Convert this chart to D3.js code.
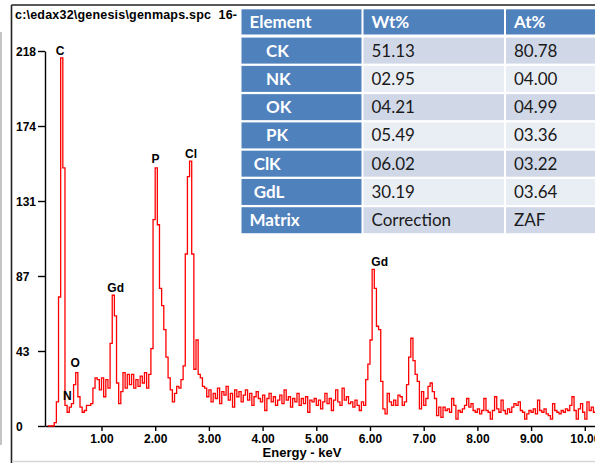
<!DOCTYPE html>
<html>
<head>
<meta charset="utf-8">
<script src="https://cdn.jsdelivr.net/npm/d3@7"></script>
<style>
  html, body { margin: 0; padding: 0; background: #fff; }
  svg { display: block; }
  .ax text { font-family: "Liberation Sans", Arial, sans-serif; font-weight: bold; font-size: 12px; fill: #000; }
  .peak { font-family: "Liberation Sans", Arial, sans-serif; font-weight: bold; font-size: 12px; fill: #000; }
  .xlabel { font-family: "Liberation Sans", Arial, sans-serif; font-weight: bold; font-size: 13px; fill: #000; }
  .title { font-family: "Liberation Sans", Arial, sans-serif; font-weight: bold; font-size: 12.5px; white-space: pre; letter-spacing: 0.2px; }
  .tbl text { font-family: Lato, "Open Sans", sans-serif; font-size: 17px; white-space: pre; }
</style>
</head>
<body>
<svg id="chart" width="595" height="463"></svg>
<script>
// EDS spectrum: counts per 0.04 keV channel, starting at 0 keV
const channelWidth = 0.04;
const counts = [
  0, 0, 0, 2, 14, 75, 214, 150, 12, 8, 11, 13, 24, 31, 17, 11, 8, 9, 12, 12,
  13, 22, 28, 27, 21, 28, 17, 27, 22, 48, 76, 64, 25, 13, 20, 31, 22, 30, 24, 30,
  22, 27, 23, 29, 25, 31, 22, 30, 45, 120, 150, 117, 80, 70, 56, 40, 28, 21, 14, 19,
  23, 22, 27, 35, 100, 145, 154, 100, 33, 50, 30, 28, 23, 22, 17, 21, 14, 19, 16, 22,
  13, 20, 18, 23, 15, 19, 11, 21, 17, 20, 14, 18, 21, 15, 19, 12, 17, 20, 16, 14,
  18, 9, 16, 19, 14, 17, 12, 15, 18, 13, 21, 15, 17, 11, 16, 14, 19, 12, 16, 13,
  17, 8, 15, 14, 16, 12, 15, 10, 14, 19, 13, 16, 9, 15, 21, 14, 12, 22, 15, 17,
  13, 14, 11, 15, 12, 9, 14, 12, 27, 36, 50, 91, 80, 58, 56, 26, 10, 7, 19, 14,
  12, 15, 12, 18, 17, 12, 14, 24, 40, 51, 38, 30, 26, 10, 20, 12, 16, 23, 25, 20,
  16, 6, 11, 5, 11, 9, 10, 8, 16, 12, 4, 9, 8, 10, 12, 16, 11, 13, 9, 8,
  10, 7, 9, 16, 9, 8, 4, 9, 17, 10, 8, 15, 9, 7, 10, 8, 11, 13, 12, 14,
  9, 8, 4, 7, 9, 8, 10, 7, 15, 9, 8, 10, 7, 6, 4, 13, 9, 8, 7, 9,
  8, 10, 9, 12, 17, 9, 4, 10, 13, 8, 4, 14, 9, 11, 8, 9
];

// Axis ticks
const xTickValues = [1, 2, 3, 4, 5, 6, 7, 8, 9, 10];
const xTickLabels = ["1.00", "2.00", "3.00", "4.00", "5.00", "6.00", "7.00", "8.00", "9.00", "10.00"];
const yTickValues = [0, 43.6, 87.2, 130.8, 174.4, 218];
const yTickLabels = ["0", "43", "87", "131", "174", "218"];

// Peak identification labels (energy in keV, label height in counts)
const peakNames = ["C", "N", "O", "Gd", "P", "Cl", "Gd"];
const peakEnergies = [0.227, 0.363, 0.51, 1.264, 2.006, 2.667, 6.18];
const peakLabelCounts = [215.7, 15.1, 34.3, 77.9, 152.9, 155.8, 93];

// Quantification table
const tableHeader = ["Element", "Wt%", "At%"];
const elements = ["    CK", "    NK", "    OK", "    PK", " ClK", " GdL", "Matrix"];
const wtPct = ["51.13", "02.95", "04.21", "05.49", "06.02", "30.19", "Correction"];
const atPct = ["80.78", "04.00", "04.99", "03.36", "03.22", "03.64", "ZAF"];

const title = "c:\\edax32\\genesis\\genmaps.spc  16-";

const svg = d3.select("#chart");

// Window frame
svg.append("line").attr("x1", 1).attr("x2", 1).attr("y1", 32).attr("y2", 445)
  .attr("stroke", "#c4c4c4").attr("stroke-width", 2);
svg.append("line").attr("x1", 11.5).attr("x2", 595).attr("y1", 5).attr("y2", 5)
  .attr("stroke", "#222").attr("stroke-width", 1.6);
svg.append("line").attr("x1", 11.5).attr("x2", 11.5).attr("y1", 5).attr("y2", 463)
  .attr("stroke", "#222").attr("stroke-width", 1.6);
svg.append("line").attr("x1", 12).attr("x2", 595).attr("y1", 461.5).attr("y2", 461.5)
  .attr("stroke", "#d6d6d6").attr("stroke-width", 1.5);

svg.append("text").attr("class", "title").attr("x", 15).attr("y", 18.5).text(title);

// Scales
const x = d3.scaleLinear().domain([-0.052, 10.19]).range([45, 595]);
const y = d3.scaleLinear().domain([0, 218]).range([426, 51]);

// Y axis
const yAxis = d3.axisLeft(y)
  .tickValues(yTickValues)
  .tickFormat((d, i) => yTickLabels[i])
  .tickSize(7).tickSizeOuter(0);
const gy = svg.append("g").attr("class", "ax").attr("transform", "translate(45,0)").call(yAxis);
gy.select(".domain").attr("stroke", "#000").attr("stroke-width", 1.4);
gy.selectAll(".tick line").attr("stroke", "#000").attr("stroke-width", 1.4);
gy.selectAll(".tick text").attr("text-anchor", "start").attr("x", -29).attr("dy", "0.36em");

// X axis
const xAxis = d3.axisBottom(x)
  .tickValues(xTickValues)
  .tickFormat((d, i) => xTickLabels[i])
  .tickSize(5).tickSizeOuter(0);
const gx = svg.append("g").attr("class", "ax").attr("transform", "translate(0,426)").call(xAxis);
gx.select(".domain").attr("stroke", "#000").attr("stroke-width", 1.4);
gx.selectAll(".tick line").attr("stroke", "#000").attr("stroke-width", 1.4);
gx.selectAll(".tick text").attr("y", 8.5).attr("dy", "0.71em");

svg.append("text").attr("class", "xlabel")
  .attr("x", 302).attr("y", 457).attr("text-anchor", "middle")
  .text("Energy - keV");

// Spectrum trace
svg.append("clipPath").attr("id", "plotClip")
  .append("rect").attr("x", 45).attr("y", 0).attr("width", 550).attr("height", 430);

const pts = counts.map((c, i) => [i * channelWidth, c]);
pts.push([counts.length * channelWidth, counts[counts.length - 1]]);
const line = d3.line()
  .x(d => x(d[0]))
  .y(d => y(d[1]))
  .curve(d3.curveStepAfter);
svg.append("path")
  .attr("clip-path", "url(#plotClip)")
  .attr("d", line(pts))
  .attr("fill", "none")
  .attr("stroke", "#ff0000")
  .attr("stroke-width", 1.3);

// Peak labels
svg.selectAll("text.plabel").data(peakNames).enter().append("text")
  .attr("class", "peak plabel")
  .attr("x", (d, i) => x(peakEnergies[i]))
  .attr("y", (d, i) => y(peakLabelCounts[i]))
  .attr("text-anchor", "middle")
  .text(d => d);

// Quantification table
const tbl = svg.append("g").attr("class", "tbl");
tbl.append("rect").attr("x", 240).attr("y", 7).attr("width", 355).attr("height", 228).attr("fill", "#fff");
const colX = [241.5, 363.5, 506];
const colW = [120, 140.5, 90];
const blue = "#4f81bd", band1 = "#d0d8e8", band2 = "#e9edf4";

// header row
tableHeader.forEach((h, c) => {
  tbl.append("rect").attr("x", colX[c]).attr("y", 9.3).attr("width", colW[c]).attr("height", 25.2).attr("fill", blue);
  tbl.append("text").attr("x", colX[c] + 8).attr("y", 27.5).attr("fill", "#fff").attr("font-weight", "bold").text(h);
});

elements.forEach((el, r) => {
  const top = 37.6 + r * 28.27;
  const fill = r % 2 === 0 ? band1 : band2;
  tbl.append("rect").attr("x", colX[0]).attr("y", top).attr("width", colW[0]).attr("height", 26).attr("fill", blue);
  tbl.append("rect").attr("x", colX[1]).attr("y", top).attr("width", colW[1]).attr("height", 26).attr("fill", fill);
  tbl.append("rect").attr("x", colX[2]).attr("y", top).attr("width", colW[2]).attr("height", 26).attr("fill", fill);
  tbl.append("text").attr("x", colX[0] + 8).attr("y", top + 19).attr("fill", "#fff").attr("font-weight", "bold").text(el);
  tbl.append("text").attr("x", colX[1] + 8).attr("y", top + 19).attr("fill", "#1a1a1a").text(wtPct[r]);
  tbl.append("text").attr("x", colX[2] + 8).attr("y", top + 19).attr("fill", "#1a1a1a").text(atPct[r]);
});
</script>
</body>
</html>
